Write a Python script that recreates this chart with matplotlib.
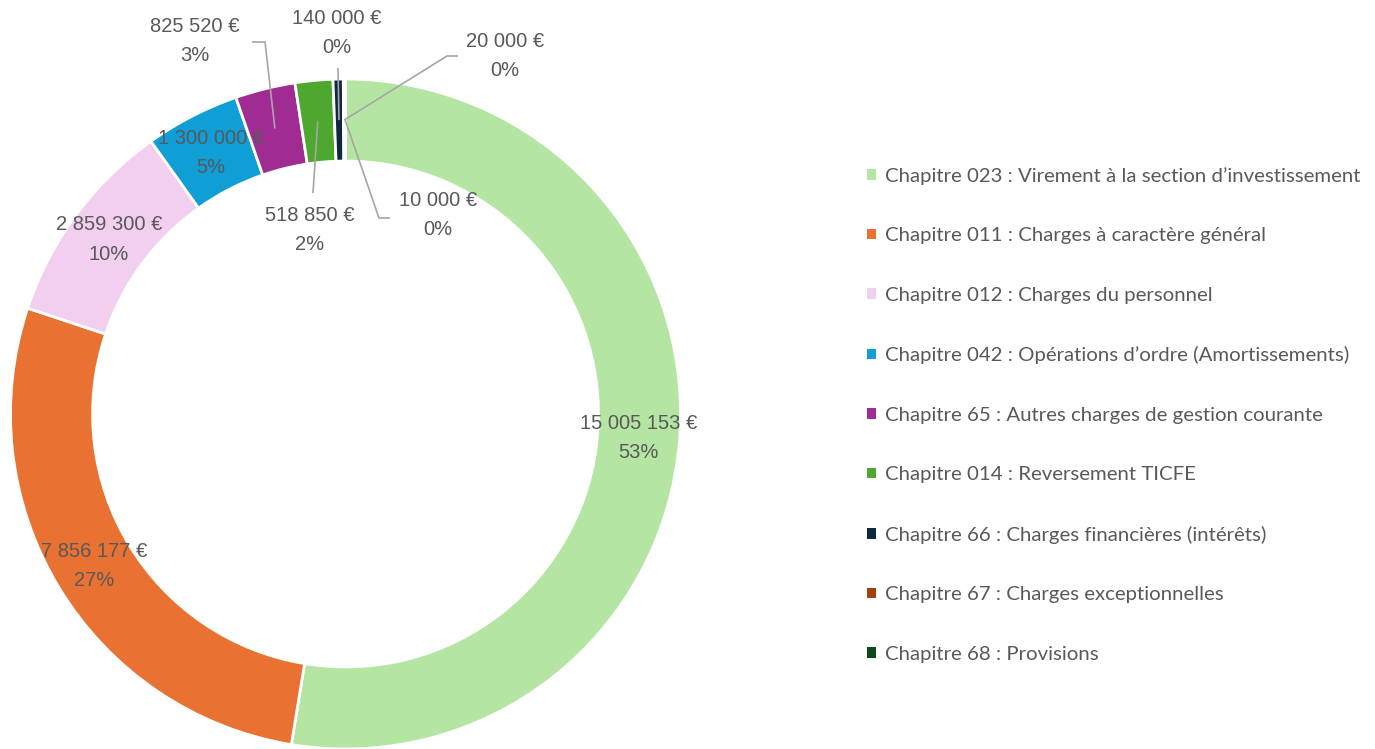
import matplotlib
matplotlib.use("Agg")
import matplotlib.pyplot as plt
import numpy as np

categories = [
    "Chapitre 023 : Virement à la section d\u2019investissement",
    "Chapitre 011 : Charges à caractère général",
    "Chapitre 012 : Charges du personnel",
    "Chapitre 042 : Opérations d\u2019ordre (Amortissements)",
    "Chapitre 65 : Autres charges de gestion courante",
    "Chapitre 014 : Reversement TICFE",
    "Chapitre 66 : Charges financières (intérêts)",
    "Chapitre 67 : Charges exceptionnelles",
    "Chapitre 68 : Provisions",
]
values = [15005153, 7856177, 2859300, 1300000, 825520, 518850, 140000, 20000, 10000]
value_labels = ["15 005 153 €", "7 856 177 €", "2 859 300 €", "1 300 000 €", "825 520 €",
                "518 850 €", "140 000 €", "20 000 €", "10 000 €"]
pct_labels = ["53%", "27%", "10%", "5%", "3%", "2%", "0%", "0%", "0%"]
colors = ["#B4E5A2", "#E97132", "#F2CEEF", "#0F9ED5", "#A02B93", "#4EA72E",
          "#0E2841", "#A5400F", "#0E4A17"]

W, H = 1375, 749
fig = plt.figure(figsize=(W / 100, H / 100), dpi=100)
ax = fig.add_axes([0, 0, 1, 1])

cx, cy, R = 345.5, H - 414, 335
ring = 0.245
wedges, _ = ax.pie(values, colors=colors, startangle=90, counterclock=False,
                   radius=R, center=(cx, cy),
                   wedgeprops=dict(width=R * ring, edgecolor="white", linewidth=2))
ax.set_xlim(0, W)
ax.set_ylim(0, H)
ax.set_aspect("auto")
ax.axis("off")

label_font = dict(family=["Liberation Sans", "DejaVu Sans"], size=14.5, color="#595959")
rm = R * (1 - ring / 2)

def mid_point(w):
    a = np.deg2rad((w.theta1 + w.theta2) / 2)
    return cx + rm * np.cos(a), cy + rm * np.sin(a)

# outside labels: text centre (image px) and leader path start / elbow (image px)
outside = {
    4: ((195, 41), [(252, 42), (265, 42)]),
    5: ((310, 230), [(313, 193)]),
    6: ((337, 33), [(338, 68)]),
    7: ((505, 56), [(458, 56), (447, 56)]),
    8: ((438, 215), [(390, 218), (379, 218)]),
}

for i, w in enumerate(wedges):
    txt = value_labels[i] + "\n" + pct_labels[i]
    mx, my = mid_point(w)
    if i in outside:
        (tx, ty), path = outside[i]
        pts = [(x, H - y) for x, y in path] + [(mx, my)]
        xs, ys = zip(*pts)
        ax.plot(xs, ys, color="#A6A6A6", lw=1.2, solid_capstyle="butt")
        ax.text(tx, H - ty, txt, ha="center", va="center", linespacing=1.7, **label_font)
    else:
        ax.text(mx, my, txt, ha="center", va="center", linespacing=1.7, **label_font)

leg = fig.legend(wedges, categories, loc="center left",
                 bbox_to_anchor=(867 / W, (H - 415) / H), frameon=False,
                 prop=dict(family=["Lato", "DejaVu Sans"], size=14.7),
                 handlelength=0.42, handleheight=0.42, handletextpad=0.45,
                 labelspacing=2.08, borderpad=0, borderaxespad=0)
for t in leg.get_texts():
    t.set_color("#595959")
for h in leg.legend_handles:
    h.set_edgecolor("none")

fig.savefig("out.png", dpi=100)
